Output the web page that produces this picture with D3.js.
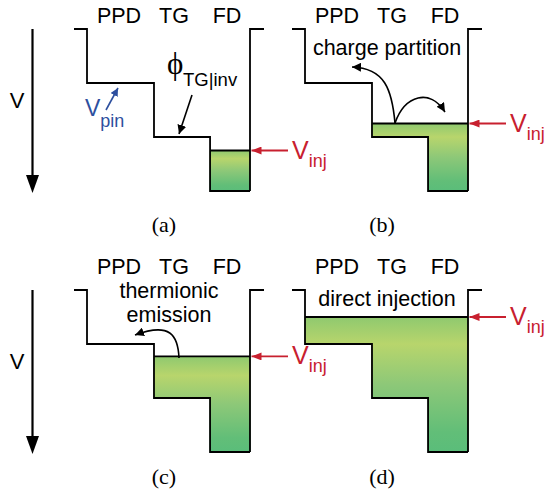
<!DOCTYPE html>
<html>
<head>
<meta charset="utf-8">
<script src="https://cdn.jsdelivr.net/npm/d3@7"></script>
<style>
  html, body { margin: 0; padding: 0; background: #fff; }
  svg { display: block; }
</style>
</head>
<body>
<svg id="chart" width="546" height="495"></svg>
<script>
// Potential-well diagrams of charge injection into a pinned photodiode pixel
const panelNames = ["(a)", "(b)", "(c)", "(d)"];
const regionNames = ["PPD", "TG", "FD"];
// floor depth of each level: channel edge, PPD pinning, TG inversion, FD bottom
const floorLevels = [0, 1, 2, 3];
// depth reached by the injected charge in each case
const injectionLevels = [2.25, 1.75, 1.23, 0.5];
const mechanisms = [[], ["charge partition"], ["thermionic", "emission"], ["direct injection"]];

const svg = d3.select("#chart");
const sans = "'Liberation Sans', Arial, Helvetica, sans-serif";
const serif = "'Liberation Serif', 'Times New Roman', serif";
const red = "#c8202f", blue = "#2d4f9e";

const defs = svg.append("defs");
function marker(id, color, len, half) {
  defs.append("marker")
    .attr("id", id).attr("viewBox", `0 ${-half} ${len} ${2 * half}`)
    .attr("refX", len).attr("refY", 0)
    .attr("markerUnits", "userSpaceOnUse")
    .attr("markerWidth", len).attr("markerHeight", 2 * half)
    .attr("orient", "auto")
    .append("path").attr("d", `M0,${-half}L${len},0L0,${half}Z`).attr("fill", color);
}
marker("arrBlack", "#000", 9, 4.5);
marker("arrRed", red, 10, 4);
marker("arrBlue", blue, 8, 4);

// panel placement
const origins = [[0, 0], [218, 0], [0, 261], [218, 261]];
const labelBase = [23, 13];
const captionBase = [232, 223];
const captionX = [164, 382];
const labelX = [119, 174, 227];
// well walls: left wall, PPD/TG edge, TG/FD edge, right wall
const wallFrac = [0, 0.411, 0.755, 1];

panelNames.forEach((name, i) => {
  const [ox, oy] = origins[i];
  const row = Math.floor(i / 2), col = i % 2;
  const g = svg.append("g").attr("transform", `translate(${ox},${oy})`);

  const x = d3.scaleLinear().domain([0, 1]).range([87, 250]);
  const y = d3.scaleLinear().domain([0, 3]).range([29, 191]);
  const yInj = y(injectionLevels[i]);

  // gradient for the injected charge, in the panel's own coordinates
  const grad = defs.append("linearGradient").attr("id", "fill" + i)
    .attr("gradientUnits", "userSpaceOnUse")
    .attr("x1", 0).attr("x2", 0).attr("y1", yInj).attr("y2", y(3));
  [[0, "#8fc96f"], [0.2, "#b8d56c"], [0.5, "#8dc878"], [0.85, "#62be78"], [1, "#5abd7a"]]
    .forEach(([o, c]) => grad.append("stop").attr("offset", o).attr("stop-color", c));

  // filled part of each region lying below the injection level
  const regions = regionNames.map((r, k) => ({
    x0: x(wallFrac[k]), x1: x(wallFrac[k + 1]), floor: floorLevels[k + 1]
  }));
  const filled = regions.filter(r => r.floor > injectionLevels[i]);
  g.selectAll("rect.charge").data(filled).join("rect")
    .attr("class", "charge")
    .attr("x", r => r.x0 - 0.5).attr("width", r => r.x1 - r.x0 + 1)
    .attr("y", yInj).attr("height", r => y(r.floor) - yInj)
    .attr("fill", `url(#fill${i})`);

  // band outline
  const p = d3.path();
  p.moveTo(x(0) - 13, y(0));
  p.lineTo(x(0), y(0));
  regions.forEach(r => { p.lineTo(r.x0, y(r.floor)); p.lineTo(r.x1, y(r.floor)); });
  p.moveTo(x(1), y(3));
  p.lineTo(x(1), y(0));
  p.lineTo(x(1) + 14, y(0));
  g.append("path").attr("d", p.toString()).attr("fill", "none")
    .attr("stroke", "#000").attr("stroke-width", 1.8).attr("stroke-linejoin", "miter");
  // surface of the injected charge
  g.append("line").attr("x1", filled[0].x0).attr("x2", x(1))
    .attr("y1", yInj).attr("y2", yInj).attr("stroke", "#000").attr("stroke-width", 1.8);

  // region labels
  g.selectAll("text.reg").data(regionNames).join("text")
    .attr("class", "reg").attr("x", (d, k) => labelX[k]).attr("y", labelBase[row])
    .attr("text-anchor", "middle").attr("font-family", sans).attr("font-size", 21.5)
    .text(d => d);

  // injection arrow and label
  g.append("line").attr("x1", x(1) + 38).attr("x2", x(1) + 1.5)
    .attr("y1", yInj).attr("y2", yInj)
    .attr("stroke", red).attr("stroke-width", 1.8).attr("marker-end", "url(#arrRed)");
  const vt = g.append("text").attr("x", x(1) + 42).attr("y", yInj + 8)
    .attr("font-family", sans).attr("fill", red);
  vt.append("tspan").attr("font-size", 25).text("V");
  vt.append("tspan").attr("font-size", 18).attr("dy", 8).text("inj");

  // caption
  g.append("text").attr("x", captionX[col] - ox).attr("y", captionBase[row])
    .attr("text-anchor", "middle").attr("font-family", serif).attr("font-size", 22)
    .text(name);

  // potential axis
  if (col === 0) {
    g.append("line").attr("x1", 32.5).attr("x2", 32.5).attr("y1", y(0)).attr("y2", y(3) - 14)
      .attr("stroke", "#000").attr("stroke-width", 2.2);
    g.append("path").attr("d", `M26,${y(3) - 16}L39,${y(3) - 16}L32.5,${y(3) + 2}Z`).attr("fill", "#000");
    g.append("text").attr("x", 17).attr("y", 108).attr("text-anchor", "middle")
      .attr("font-family", sans).attr("font-size", 22).text("V");
  }

  // mechanism labels
  const mY = [[], [55], [37, 61], [45]][i];
  mechanisms[i].forEach((m, k) => {
    g.append("text").attr("x", 169).attr("y", mY[k]).attr("text-anchor", "middle")
      .attr("font-family", sans).attr("font-size", 21.5).text(m);
  });
});

// (a) annotations: pinning voltage and TG inversion potential
const ga = svg.append("g");
const vp = ga.append("text").attr("x", 85).attr("y", 116).attr("font-family", sans).attr("fill", blue);
vp.append("tspan").attr("font-size", 23).text("V");
vp.append("tspan").attr("font-size", 18).attr("dy", 11).text("pin");
ga.append("line").attr("x1", 106).attr("y1", 110).attr("x2", 118).attr("y2", 88)
  .attr("stroke", blue).attr("stroke-width", 1.6).attr("marker-end", "url(#arrBlue)");
ga.append("text").attr("x", 167).attr("y", 74).attr("font-family", serif).attr("font-size", 31).text("ϕ");
ga.append("text").attr("x", 183).attr("y", 86).attr("font-family", sans).attr("font-size", 18.5).text("TG|inv");
ga.append("line").attr("x1", 192).attr("y1", 95).attr("x2", 179).attr("y2", 134)
  .attr("stroke", "#000").attr("stroke-width", 1.6).attr("marker-end", "url(#arrBlack)");

// (b) charge splitting to both sides of the TG
const gb = svg.append("g").attr("transform", "translate(218,0)");
gb.append("path").attr("d", "M177,123C174,90 167,68 134,67").attr("fill", "none")
  .attr("stroke", "#000").attr("stroke-width", 1.6).attr("marker-end", "url(#arrBlack)");
gb.append("path").attr("d", "M177,123C187,95 212,88 227,112").attr("fill", "none")
  .attr("stroke", "#000").attr("stroke-width", 1.6).attr("marker-end", "url(#arrBlack)");

// (c) emission over the PPD barrier
const gc = svg.append("g").attr("transform", "translate(0,261)");
gc.append("path").attr("d", "M179,97C178,74 170,61 135,74").attr("fill", "none")
  .attr("stroke", "#000").attr("stroke-width", 1.6).attr("marker-end", "url(#arrBlack)");
</script>
</body>
</html>
